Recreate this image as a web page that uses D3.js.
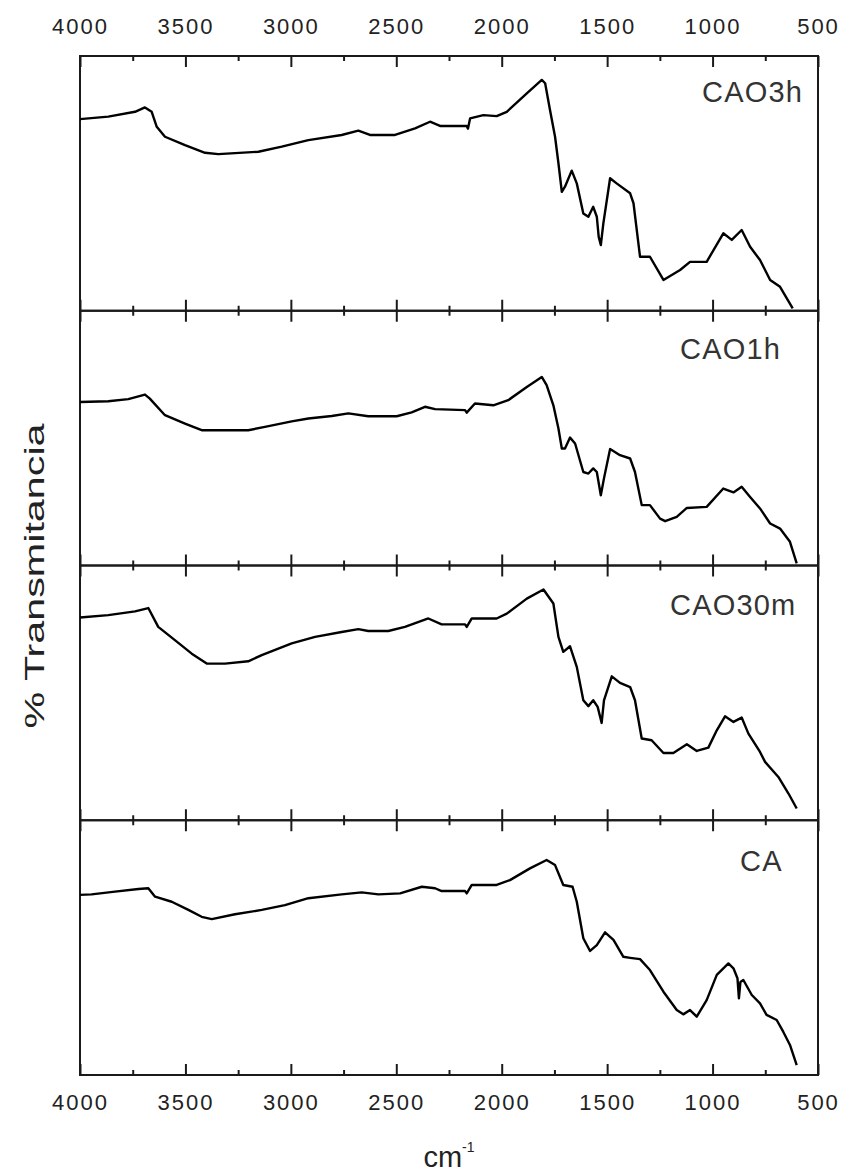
<!DOCTYPE html>
<html>
<head>
<meta charset="utf-8">
<script src="https://cdn.jsdelivr.net/npm/d3@7"></script>
<style>
  body { margin: 0; background: #fff; }
  svg text { font-family: "Liberation Sans", Arial, sans-serif; }
</style>
</head>
<body>
<div class="chart"></div>
<script>
// FTIR spectra (transmittance in arbitrary units, 0-100 per panel)
var seriesNames = ["CAO3h", "CAO1h", "CAO30m", "CA"];

var wnCAO3h = [4000,3866,3739,3692,3660,3636,3597,3502,3407,3344,3154,3043,2917,2759,2680,2625,2506,2411,2340,2290,2166,2160,2150,2087,2024,1976,1881,1810,1794,1771,1747,1731,1715,1700,1668,1644,1613,1589,1566,1549,1540,1530,1518,1486,1455,1391,1375,1344,1297,1233,1154,1107,1028,949,909,862,822,775,727,680,620];
var tCAO3h = [75.2,76.2,78.1,79.8,78.1,72.2,68.3,65.0,62.0,61.5,62.4,64.4,67.0,69.0,70.7,69.0,69.0,71.6,74.2,72.5,72.5,71.5,75.5,76.8,76.4,78.1,85.3,90.6,89.3,78.8,68.3,57.9,46.7,48.7,55.0,50.0,38.2,36.9,40.8,36.9,29.0,25.8,34.3,52.0,50.0,46.1,42.2,21.2,21.2,12.1,16.0,19.2,19.2,30.4,27.8,31.7,25.1,19.9,12.1,9.4,0.9];

var wnCAO1h = [4000,3866,3771,3692,3670,3597,3502,3423,3202,3123,2996,2917,2806,2727,2633,2498,2427,2364,2316,2174,2166,2127,2040,1969,1881,1810,1787,1755,1731,1715,1700,1676,1652,1613,1589,1566,1549,1530,1515,1486,1439,1391,1368,1336,1297,1249,1225,1170,1122,1028,949,901,862,822,775,727,680,633,601];
var tCAO1h = [64.2,64.5,65.3,67.1,65.6,59.0,55.7,53.1,53.1,54.4,56.6,57.7,58.7,59.7,58.6,58.6,60.1,62.3,61.4,61.0,60.0,63.6,62.9,64.9,70.1,74.0,70.8,62.9,53.8,45.9,45.9,50.2,47.9,36.7,36.1,38.1,36.7,27.6,34.2,45.7,43.3,42.0,36.7,23.7,23.7,18.4,17.4,19.1,22.6,23.0,30.2,28.7,30.9,26.9,22.4,16.5,14.5,9.3,0.8];

var wnCAO30m = [4000,3866,3739,3676,3629,3550,3470,3399,3312,3202,3138,2996,2885,2759,2680,2633,2538,2459,2348,2285,2174,2166,2142,2024,1976,1881,1802,1755,1731,1708,1676,1644,1613,1589,1566,1545,1526,1515,1478,1439,1391,1368,1336,1289,1233,1186,1122,1075,1020,980,941,901,862,830,775,751,688,640,601];
var tCAO30m = [79.6,80.5,82.0,83.3,75.9,70.7,65.4,61.5,61.5,62.4,64.8,69.4,72.0,73.9,75.0,74.3,74.3,75.9,79.2,76.9,76.9,75.9,79.2,79.2,81.1,87.0,90.6,85.1,72.0,66.1,68.3,60.2,47.1,44.8,47.1,44.5,38.2,47.1,56.5,53.9,52.3,47.1,32.1,31.4,26.4,26.4,29.8,27.2,28.5,35.3,40.8,38.6,40.3,34.0,26.8,22.9,17.0,10.5,4.6];

var wnCA = [4000,3945,3834,3723,3676,3644,3565,3486,3423,3375,3265,3138,3028,2917,2759,2664,2585,2482,2379,2316,2285,2174,2166,2142,2024,1961,1866,1787,1747,1708,1664,1644,1613,1581,1549,1510,1470,1423,1391,1344,1297,1233,1170,1139,1107,1075,1028,980,925,901,882,875,868,854,814,775,744,696,665,633,601];
var tCA = [70.7,70.9,72.0,73.0,73.3,70.0,68.0,64.8,62.1,61.2,63.1,64.8,66.7,69.4,70.9,71.7,70.9,71.3,73.9,73.3,72.2,72.2,71.3,74.6,74.6,76.5,81.1,84.4,82.4,74.6,73.9,68.0,53.7,48.7,51.0,56.0,53.0,46.4,46.0,45.5,41.2,32.7,25.5,23.8,25.5,22.9,29.4,39.3,43.8,41.9,38.0,30.1,36.5,37.3,31.4,28.1,23.6,21.6,17.0,11.8,3.9];

var majorTicks = [4000,3500,3000,2500,2000,1500,1000,500];
var minorTicks = [3750,3250,2750,2250,1750,1250,750];

var allWn = [wnCAO3h, wnCAO1h, wnCAO30m, wnCA];
var allT = [tCAO3h, tCAO1h, tCAO30m, tCA];

// label placement inside each panel (layout only)
var labelPos = [
  {x: 622, y: 46},
  {x: 600, y: 48},
  {x: 590, y: 49.5},
  {x: 660, y: 51}
];

var svgWidth = 843;
var svgHeight = 1172;

var margin = {
  top: 56,
  right: 25,
  bottom: 97,
  left: 80
};

var width = svgWidth - margin.left - margin.right;
var height = svgHeight - margin.top - margin.bottom;
var panelHeight = height / seriesNames.length;

var svg = d3
  .select(".chart")
  .append("svg")
  .attr("width", svgWidth)
  .attr("height", svgHeight);

var chartGroup = svg.append("g")
  .attr("transform", `translate(${margin.left}, ${margin.top})`);

var xScale = d3.scaleLinear()
  .domain([4000, 500])
  .range([0, width]);

var yScale = d3.scaleLinear()
  .domain([0, 100])
  .range([panelHeight, 0]);

var line = d3.line()
  .x(d => xScale(d[0]))
  .y(d => yScale(d[1]));

var axisColor = "#1a1a1a";

function styleAxis(g) {
  g.select(".domain").remove();
  g.selectAll(".tick line")
    .attr("stroke", axisColor)
    .attr("stroke-width", 2);
  g.selectAll(".tick text")
    .attr("fill", "#222")
    .attr("font-size", 22)
    .style("letter-spacing", "2px");
}

seriesNames.forEach(function(name, i) {
  var panel = chartGroup.append("g")
    .attr("transform", `translate(0, ${i * panelHeight})`);

  // top ticks (labels only on the first panel)
  panel.append("g")
    .call(d3.axisTop(xScale)
      .tickValues(majorTicks)
      .tickSize(-11)
      .tickPadding(22)
      .tickFormat(i === 0 ? d3.format("d") : ""))
    .call(styleAxis);

  panel.append("g")
    .call(d3.axisTop(xScale)
      .tickValues(minorTicks)
      .tickSize(-5)
      .tickFormat(""))
    .call(styleAxis);

  // bottom ticks (labels only on the last panel)
  panel.append("g")
    .attr("transform", `translate(0, ${panelHeight})`)
    .call(d3.axisBottom(xScale)
      .tickValues(majorTicks)
      .tickSize(-11)
      .tickPadding(19)
      .tickFormat(i === seriesNames.length - 1 ? d3.format("d") : ""))
    .call(styleAxis);

  panel.append("g")
    .attr("transform", `translate(0, ${panelHeight})`)
    .call(d3.axisBottom(xScale)
      .tickValues(minorTicks)
      .tickSize(-5)
      .tickFormat(""))
    .call(styleAxis);

  // frame
  panel.append("rect")
    .attr("x", 0)
    .attr("y", 0)
    .attr("width", width)
    .attr("height", panelHeight)
    .attr("fill", "none")
    .attr("stroke", axisColor)
    .attr("stroke-width", 2);

  // spectrum
  var pts = d3.zip(allWn[i], allT[i]);
  panel.append("path")
    .datum(pts)
    .attr("d", line)
    .attr("fill", "none")
    .attr("stroke", "#000")
    .attr("stroke-width", 2.4)
    .attr("stroke-linejoin", "round");

  panel.append("text")
    .attr("x", labelPos[i].x)
    .attr("y", labelPos[i].y)
    .attr("font-size", 29)
    .attr("fill", "#333")
    .style("letter-spacing", "1.2px")
    .text(name);
});

// y axis label
svg.append("text")
  .attr("transform", `translate(44, 576) rotate(-90)`)
  .attr("text-anchor", "middle")
  .attr("font-size", 27)
  .attr("fill", "#222")
  .attr("textLength", 305)
  .attr("lengthAdjust", "spacingAndGlyphs")
  .text("% Transmitancia");

// x axis label
var xLabel = svg.append("text")
  .attr("x", margin.left + width / 2)
  .attr("y", 1167)
  .attr("text-anchor", "middle")
  .attr("font-size", 29)
  .attr("fill", "#222");

xLabel.append("tspan").text("cm");
xLabel.append("tspan")
  .attr("dy", -15)
  .attr("font-size", 14)
  .text("-1");
</script>
</body>
</html>
